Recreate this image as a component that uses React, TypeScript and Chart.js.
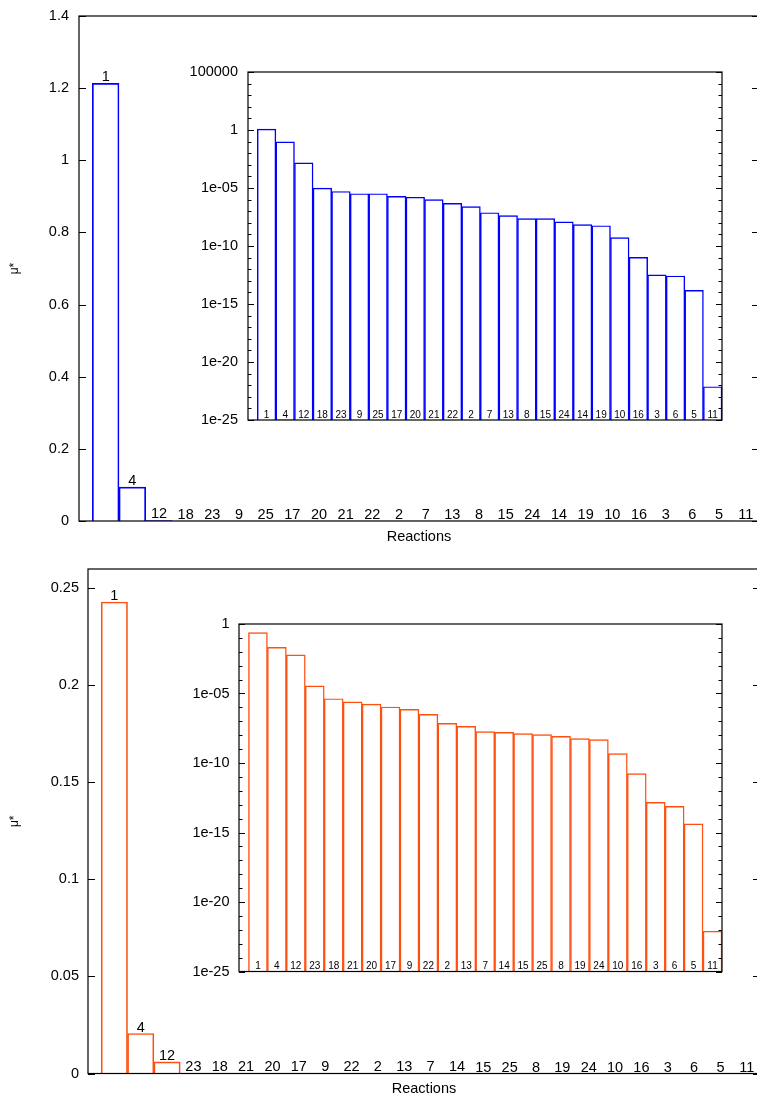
import React, { useEffect, useRef } from 'react';
import { Chart, registerables } from 'chart.js';

Chart.register(...registerables);

const FONT = '"Liberation Sans", Arial, Helvetica, sans-serif';

// ---------- data ----------
const topReactions = [1, 4, 12, 18, 23, 9, 25, 17, 20, 21, 22, 2, 7, 13, 8, 15, 24, 14, 19, 10, 16, 3, 6, 5, 11];
const topMu = [
  1.213, 0.094, 1.5e-3, 1.0e-5, 5.0e-6, 3.2e-6, 3.2e-6, 1.9e-6, 1.6e-6, 1.0e-6, 4.8e-7, 2.5e-7, 7.4e-8,
  4.1e-8, 2.3e-8, 2.3e-8, 1.2e-8, 6.9e-9, 5.6e-9, 5.2e-10, 1.05e-11, 3.2e-13, 2.6e-13, 1.5e-14, 7.4e-23,
];
const bottomReactions = [1, 4, 12, 23, 18, 21, 20, 17, 9, 22, 2, 13, 7, 14, 15, 25, 8, 19, 24, 10, 16, 3, 6, 5, 11];
const bottomMu = [
  0.243, 0.0206, 0.006, 3.6e-5, 4.2e-6, 2.5e-6, 1.7e-6, 1.07e-6, 7.3e-7, 3.2e-7, 7.1e-8, 4.3e-8, 1.8e-8,
  1.6e-8, 1.3e-8, 1.1e-8, 8.3e-9, 5.6e-9, 4.8e-9, 4.7e-10, 1.7e-11, 1.5e-13, 7.6e-14, 4.2e-15, 7.9e-23,
];

const topLinearMax = 1.4;
const topLinearTicks = [0, 0.2, 0.4, 0.6, 0.8, 1, 1.2, 1.4];
const bottomLinearMax = 0.26;
const bottomLinearTicks = [0, 0.05, 0.1, 0.15, 0.2, 0.25];
const topInsetExponents = [5, 0, -5, -10, -15, -20, -25];
const bottomInsetExponents = [0, -5, -10, -15, -20, -25];
const xPositionTicks = [0, 5, 10, 15, 20, 25];
const xMax = 25.5;

const X_TITLE = 'Reactions';
const Y_TITLE = 'μ*';
const TOP_COLOR = '#0000ff';
const BOTTOM_COLOR = '#ff5010';

// ---------- helpers ----------
function fmtLinear(v: number) {
  return String(Number(Number(v).toFixed(4)));
}
function fmtLog(v: number) {
  const e = Math.round(Math.log10(v));
  return e >= 0 ? String(Math.round(Math.pow(10, e))) : '1e-' + String(-e).padStart(2, '0');
}

function framePlugin(reactions: number[], inset: boolean) {
  return {
    id: 'frameAndLabels',
    afterDatasetsDraw(chart: any) {
      const { ctx, chartArea: a } = chart;
      const y = chart.scales.y;
      ctx.save();
      ctx.strokeStyle = '#000';
      ctx.lineWidth = 1.2;
      ctx.strokeRect(a.left, a.top, a.right - a.left, a.bottom - a.top);
      ctx.lineWidth = 1;
      ctx.beginPath();
      const major = inset ? 6 : 7;
      y.ticks.forEach((t: any) => {
        const py = Math.round(y.getPixelForValue(t.value)) + 0.5;
        ctx.moveTo(a.left, py);
        ctx.lineTo(a.left + major, py);
        ctx.moveTo(a.right, py);
        ctx.lineTo(a.right - major, py);
      });
      if (inset) {
        const lo = Math.round(Math.log10(y.min));
        const hi = Math.round(Math.log10(y.max));
        for (let e = lo; e <= hi; e++) {
          if (e % 5 === 0) continue;
          const py = Math.round(y.getPixelForValue(Math.pow(10, e))) + 0.5;
          ctx.moveTo(a.left, py);
          ctx.lineTo(a.left + 3.5, py);
          ctx.moveTo(a.right, py);
          ctx.lineTo(a.right - 3.5, py);
        }
      }
      ctx.stroke();

      const meta = chart.getDatasetMeta(0);
      ctx.fillStyle = '#000';
      ctx.font = (inset ? '10px ' : '14.5px ') + FONT;
      ctx.textAlign = 'center';
      ctx.textBaseline = 'alphabetic';
      meta.data.forEach((bar: any, i: number) => {
        const ty = inset ? a.bottom - 2.5 : Math.min(bar.y, a.bottom) - 2;
        ctx.fillText(String(reactions[i]), bar.x, ty);
      });
      ctx.restore();
    },
  };
}

type Geom = {
  padding: { top: number; right: number; bottom: number; left: number };
  yWidth: number;
  xHeight?: number;
  xTitlePad?: number;
  yTitlePad?: number;
  tickPad: number;
};

function xScale(display: boolean, g: Geom): any {
  const base: any = {
    type: 'linear',
    display,
    min: 0,
    max: xMax,
    offset: false,
    bounds: 'data',
    afterBuildTicks: (s: any) => {
      s.ticks = xPositionTicks.map((v) => ({ value: v }));
    },
    ticks: { display: false, autoSkip: false },
    grid: { display: false, drawTicks: false },
    border: { display: false },
  };
  if (display) {
    base.title = {
      display: true,
      text: X_TITLE,
      color: '#000',
      font: { family: FONT, size: 14.5 },
      padding: { top: 0, bottom: g.xTitlePad },
    };
    base.afterFit = (s: any) => {
      s.height = g.xHeight;
    };
  }
  return base;
}

function mainConfig(reactions: number[], values: number[], color: string, yMax: number, yTicks: number[], g: Geom): any {
  return {
    type: 'bar',
    data: {
      datasets: [
        {
          data: reactions.map((_, i) => ({ x: i + 1, y: values[i] })),
          backgroundColor: 'rgba(255,255,255,0)',
          borderColor: color,
          borderWidth: 1,
          barPercentage: 1,
          categoryPercentage: 1,
        },
      ],
    },
    options: {
      responsive: false,
      animation: false,
      events: [],
      layout: { padding: g.padding },
      plugins: { legend: { display: false }, tooltip: { enabled: false } },
      scales: {
        x: xScale(true, g),
        y: {
          type: 'linear',
          min: 0,
          max: yMax,
          bounds: 'data',
          afterBuildTicks: (s: any) => {
            s.ticks = yTicks.map((v) => ({ value: v }));
          },
          ticks: {
            autoSkip: false,
            padding: g.tickPad,
            color: '#000',
            font: { family: FONT, size: 14.5 },
            callback: (v: any) => fmtLinear(v),
          },
          grid: { display: false, drawTicks: false },
          border: { display: false },
          title: {
            display: true,
            text: Y_TITLE,
            color: '#000',
            font: { family: FONT, size: 12 },
            padding: { top: g.yTitlePad, bottom: 0 },
          },
          afterFit: (s: any) => {
            s.width = g.yWidth;
          },
        },
      },
    },
    plugins: [framePlugin(reactions, false)],
  };
}

function insetConfig(reactions: number[], values: number[], color: string, exps: number[], g: Geom): any {
  const min = Math.pow(10, Math.min(...exps));
  const max = Math.pow(10, Math.max(...exps));
  return {
    type: 'bar',
    data: {
      datasets: [
        {
          data: reactions.map((_, i) => ({ x: i + 1, y: values[i] })),
          backgroundColor: 'rgba(255,255,255,0)',
          borderColor: color,
          borderWidth: 0.8,
          barPercentage: 1,
          categoryPercentage: 1,
        },
      ],
    },
    options: {
      responsive: false,
      animation: false,
      events: [],
      layout: { padding: g.padding },
      plugins: { legend: { display: false }, tooltip: { enabled: false } },
      scales: {
        x: xScale(false, g),
        y: {
          type: 'logarithmic',
          min,
          max,
          bounds: 'data',
          afterBuildTicks: (s: any) => {
            s.ticks = exps.map((e) => ({ value: Math.pow(10, e) }));
          },
          ticks: {
            autoSkip: false,
            padding: g.tickPad,
            color: '#000',
            font: { family: FONT, size: 14.5 },
            callback: (v: any) => fmtLog(Number(v)),
          },
          grid: { display: false, drawTicks: false },
          border: { display: false },
          afterFit: (s: any) => {
            s.width = g.yWidth;
          },
        },
      },
    },
    plugins: [framePlugin(reactions, true)],
  };
}

function ChartCanvas(props: { left: number; top: number; width: number; height: number; make: () => any }) {
  const ref = useRef<HTMLCanvasElement>(null);
  useEffect(() => {
    const chart = new Chart(ref.current as HTMLCanvasElement, props.make());
    return () => chart.destroy();
  }, []);
  return (
    <canvas
      ref={ref}
      width={props.width}
      height={props.height}
      style={{
        position: 'absolute',
        left: props.left,
        top: props.top,
        width: props.width,
        height: props.height,
        display: 'block',
      }}
    />
  );
}

export default function App() {
  return (
    <div
      style={{
        position: 'absolute',
        left: 0,
        top: 0,
        width: 757,
        height: 1095,
        overflow: 'hidden',
        background: '#fff',
      }}
    >
      {/* top panel main */}
      <ChartCanvas
        left={0}
        top={-4}
        width={800}
        height={564}
        make={() =>
          mainConfig(topReactions, topMu, TOP_COLOR, topLinearMax, topLinearTicks, {
            padding: { top: 20, right: 41, bottom: 0, left: 0 },
            yWidth: 79,
            xHeight: 39,
            xTitlePad: 14.3,
            yTitlePad: 7.8,
            tickPad: 10,
          })
        }
      />
      {/* top panel inset */}
      <ChartCanvas
        left={170}
        top={52}
        width={560}
        height={388}
        make={() =>
          insetConfig(topReactions, topMu, TOP_COLOR, topInsetExponents, {
            padding: { top: 20, right: 8, bottom: 20, left: 0 },
            yWidth: 78,
            tickPad: 10,
          })
        }
      />
      {/* bottom panel main */}
      <ChartCanvas
        left={0}
        top={549}
        width={800}
        height={551}
        make={() =>
          mainConfig(bottomReactions, bottomMu, BOTTOM_COLOR, bottomLinearMax, bottomLinearTicks, {
            padding: { top: 20, right: 40, bottom: 0, left: 0 },
            yWidth: 88,
            xHeight: 26.5,
            xTitlePad: 2.8,
            yTitlePad: 7.8,
            tickPad: 9,
          })
        }
      />
      {/* bottom panel inset */}
      <ChartCanvas
        left={170}
        top={604}
        width={560}
        height={388}
        make={() =>
          insetConfig(bottomReactions, bottomMu, BOTTOM_COLOR, bottomInsetExponents, {
            padding: { top: 20, right: 8, bottom: 20.5, left: 0 },
            yWidth: 69,
            tickPad: 9.5,
          })
        }
      />
    </div>
  );
}
